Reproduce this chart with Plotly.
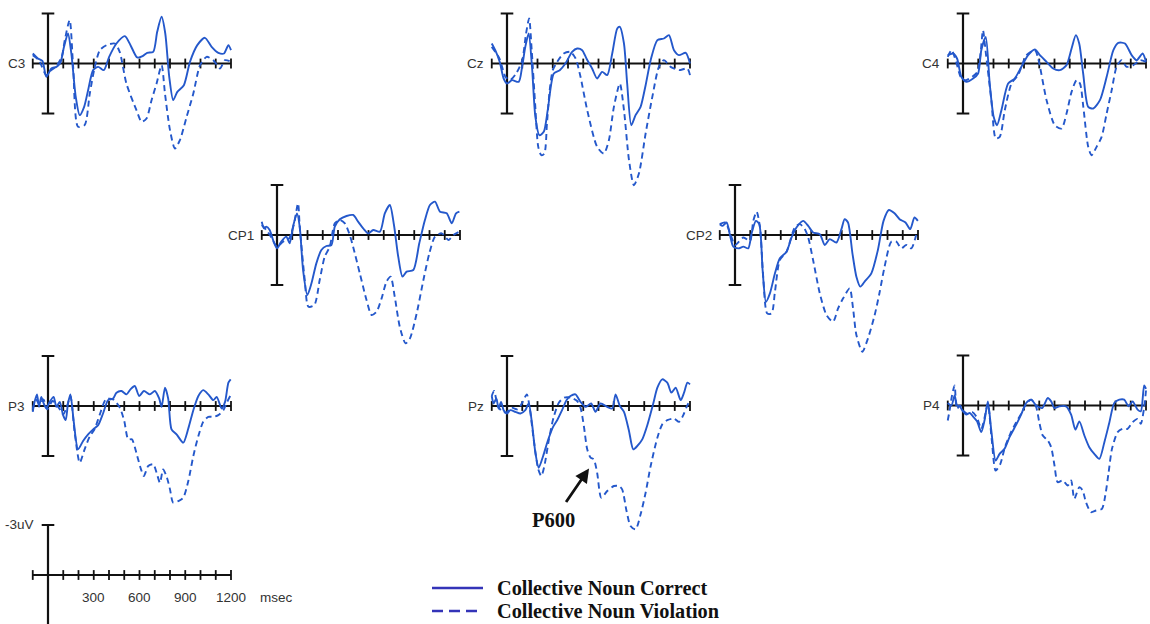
import plotly.graph_objects as go

# ---------------------------------------------------------------------------
# Grand-average ERP waveforms (microvolts, negative plotted up), time in ms
# ---------------------------------------------------------------------------
CONDITIONS = ["Collective Noun Correct", "Collective Noun Violation"]
CHANNELS = ["C3", "Cz", "C4", "CP1", "CP2", "P3", "Pz", "P4"]
TIME_TICKS_MS = [-100] + list(range(100, 1300, 100))
SCALE_LABELS_MS = [300, 600, 900, 1200]
SCALE_UV = 3

C3_CORRECT_T = [-100, -66, -37, -11, 22, 55, 81, 105, 131, 153, 182, 208, 237, 263, 296, 329, 366, 401, 449, 504,
                541, 585, 620, 650, 690, 716, 745, 769, 795, 821, 848, 891, 931, 979, 1029, 1073, 1117, 1154, 1183, 1200]
C3_CORRECT_V = [-0.6, -0.3, -0.16, 0.8, 0.3, 0.2, -0.04, -1.0, -1.8, -0.6, 2.0, 3.1, 2.6, 1.6, 0.4, 0.2, 0.4, -0.4, -1.2, -1.64,
                -1.1, -0.36, -0.44, -0.64, -0.7, -1.9, -2.8, -1.8, 0.8, 2.2, 1.7, 1.3, -0.1, -1.1, -1.54, -1.0, -0.64, -0.6, -1.1, -0.8]
C3_VIOLATION_T = [-100, -60, -11, 20, 50, 90, 110, 142, 165, 197, 240, 274, 307, 340, 384, 438, 470, 514, 580, 614,
                  646, 679, 712, 745, 767, 800, 832, 865, 909, 953, 997, 1040, 1084, 1128, 1161, 1200]
C3_VIOLATION_V = [-0.5, -0.2, 0.7, 0.4, 0.2, -0.4, -1.4, -2.6, 0.2, 3.8, 3.7, 1.8, 0.2, -0.8, -1.1, -1.2, -0.7, 1.2, 2.8, 3.5,
                  3.3, 2.2, 1.2, 0.1, 1.8, 4.0, 5.1, 4.6, 3.2, 1.8, 0.1, -0.4, -0.2, 0.3, -0.2, -0.1]

CZ_CORRECT_T = [-100, -77, -48, -22, 0, 33, 77, 99, 120, 142, 164, 186, 212, 241, 267, 307, 346, 383, 427, 460,
                493, 521, 558, 591, 624, 657, 690, 723, 740, 767, 788, 815, 843, 876, 909, 942, 986, 1029, 1062, 1095,
                1128, 1172, 1200]
CZ_CORRECT_V = [-1.2, -0.8, -0.1, 0.9, 1.2, 1.0, 1.1, 0.2, -1.0, -1.8, 0.2, 3.2, 4.3, 4.1, 2.8, 0.6, 0.4, 0.0, -0.7, -0.9,
                -0.8, -0.3, 0.3, 0.9, 0.5, 0.7, -0.6, -2.1, -2.2, -1.2, 1.2, 3.7, 3.1, 2.6, 1.3, -0.2, -1.4, -1.5, -1.7, -0.8,
                -0.5, -0.64, 0.0]
CZ_VIOLATION_T = [-100, -50, -10, 20, 60, 100, 125, 145, 162, 185, 205, 225, 245, 262, 280, 300, 329, 372, 416, 450,
                  482, 526, 591, 635, 668, 701, 740, 767, 800, 832, 865, 909, 953, 996, 1029, 1073, 1128, 1183, 1200]
CZ_VIOLATION_V = [-1.0, -0.3, 0.8, 1.0, 0.6, -0.2, -1.8, -2.7, -0.8, 2.5, 5.0, 5.5, 5.4, 3.6, 1.6, 0.4, -0.1, -0.6, -0.7, -0.3,
                  0.8, 2.8, 5.0, 5.4, 4.6, 2.6, 1.2, 2.8, 5.8, 7.3, 6.6, 4.2, 2.0, 0.2, -0.2, 0.2, 0.4, 0.3, 0.7]

C4_CORRECT_T = [-100, -66, -39, -11, 22, 66, 99, 120, 149, 175, 201, 223, 252, 296, 339, 383, 427, 471, 504, 548,
                591, 635, 679, 712, 740, 762, 788, 821, 854, 898, 942, 986, 1018, 1062, 1106, 1139, 1178, 1200]
C4_CORRECT_V = [-0.5, -0.6, -0.3, 0.8, 1.1, 0.9, 0.6, -0.8, -1.6, 1.2, 3.2, 3.7, 2.8, 1.2, 0.9, 0.2, -0.5, -0.84, -0.5, -0.1,
                0.3, 0.4, 0.1, -0.9, -1.7, -1.2, 0.6, 2.6, 2.7, 2.2, 0.8, -0.8, -1.24, -1.2, -0.5, -0.2, -0.6, -0.1]
C4_VIOLATION_T = [-100, -75, -45, -10, 20, 60, 95, 115, 131, 150, 186, 215, 241, 274, 318, 361, 416, 471, 493, 548,
                  602, 646, 679, 712, 745, 767, 789, 821, 843, 876, 909, 942, 975, 1007, 1040, 1073, 1117, 1161, 1200]
C4_VIOLATION_V = [-0.4, -0.8, -0.1, 0.9, 1.0, 0.8, 0.5, -0.6, -2.0, -0.6, 2.2, 4.5, 4.4, 2.8, 1.2, 0.7, -0.5, -0.8, -0.3, 2.2,
                  3.7, 3.9, 3.0, 1.7, 1.0, 1.2, 2.6, 5.0, 5.5, 5.0, 4.4, 3.0, 1.6, 0.2, -0.2, 0.2, 0.1, -0.2, -0.1]

CP1_CORRECT_T = [-100, -85, -70, -48, -22, 0, 28, 61, 83, 105, 131, 149, 171, 199, 226, 258, 291, 324, 357, 379,
                 412, 456, 499, 532, 565, 598, 631, 675, 707, 740, 767, 795, 823, 850, 894, 933, 970, 1003, 1036, 1069,
                 1113, 1146, 1174, 1196]
CP1_CORRECT_V = [-0.8, -0.4, -0.5, -0.3, 0.4, 0.8, 0.4, 0.1, 0.5, -0.5, -1.3, -0.5, 2.1, 3.6, 2.9, 1.7, 0.9, 0.66, 0.6, -0.5,
                 -0.94, -1.14, -1.2, -0.8, -0.4, -0.1, -0.3, -0.2, -1.3, -1.8, -0.6, 1.3, 2.5, 2.2, 2.1, 0.5, -0.9, -1.8, -2.0, -1.4,
                 -1.3, -0.7, -1.3, -1.4]
CP1_VIOLATION_T = [-100, -70, -40, 0, 40, 80, 110, 138, 149, 182, 206, 245, 280, 313, 346, 379, 412, 445, 477, 499,
                   543, 587, 620, 653, 686, 718, 745, 772, 805, 843, 872, 916, 960, 999, 1036, 1080, 1124, 1157, 1196]
CP1_VIOLATION_V = [-0.6, -0.3, 0.1, 0.7, 0.4, 0.2, -0.6, -1.9, -0.5, 2.7, 4.3, 4.2, 2.7, 1.3, 0.7, -0.7, -0.9, -0.7, 0.0, 0.7,
                   2.3, 3.9, 4.8, 4.6, 3.8, 2.8, 2.5, 3.7, 5.5, 6.5, 6.2, 4.7, 2.7, 1.1, 0.1, -0.1, 0.3, 0.0, -0.2]

CP2_CORRECT_T = [-100, -81, -55, -33, -11, 22, 55, 87, 109, 137, 159, 181, 203, 229, 262, 294, 338, 371, 403, 447,
                 480, 512, 556, 589, 621, 665, 698, 719, 741, 770, 796, 822, 850, 894, 937, 974, 1009, 1046, 1079, 1118,
                 1149, 1177, 1199]
CP2_CORRECT_V = [-0.65, -0.55, -0.75, 0.0, 0.7, 0.8, 0.7, 0.8, -0.1, -0.85, -0.65, 2.1, 4.0, 3.5, 2.3, 1.4, 1.0, 0.15, -0.45, -0.85,
                 -0.55, -0.15, -0.05, 0.6, 0.25, 0.45, -0.35, -0.95, -0.75, 1.1, 2.5, 3.1, 2.8, 2.3, 0.9, -0.85, -1.5, -1.3, -0.95, -0.75,
                 -0.35, -1.05, -0.85]
CP2_VIOLATION_T = [-100, -65, -33, 0, 55, 98, 120, 142, 164, 185, 211, 240, 262, 294, 338, 392, 425, 458, 480, 512,
                   556, 600, 643, 676, 709, 752, 774, 796, 835, 872, 916, 948, 981, 1025, 1058, 1090, 1123, 1156, 1188]
CP2_VIOLATION_V = [-0.65, -0.75, -0.15, 0.6, 0.15, 0.35, -0.85, -1.4, -0.45, 2.5, 4.7, 4.7, 3.4, 1.5, 1.0, -0.45, -0.65, -0.35, 0.15, 1.5,
                   3.5, 4.8, 5.2, 4.4, 3.8, 3.2, 4.4, 6.0, 7.0, 6.2, 4.8, 3.45, 1.9, 0.4, 0.4, 0.8, 0.6, 0.8, 0.0]

P3_CORRECT_T = [-100, -88, -72, -59, -44, -28, -11, 11, 37, 55, 77, 99, 116, 131, 147, 169, 197, 230, 263, 296,
                329, 361, 394, 427, 449, 482, 515, 541, 569, 598, 629, 668, 701, 729, 745, 767, 788, 810, 843, 887,
                920, 953, 986, 1018, 1051, 1084, 1106, 1139, 1161, 1183, 1198]
P3_CORRECT_V = [0.35, -0.25, -0.7, 0.05, -0.55, -0.15, 0.15, -0.25, -0.55, 0.05, -0.25, 0.55, 0.85, -0.15, -0.7, 0.95, 2.6, 2.1, 1.7, 1.4,
                1.15, 0.45, -0.35, -0.45, -0.8, -0.9, -0.7, -1.0, -1.2, -0.6, -0.9, -0.7, -0.9, -0.45, 0.05, -1.1, -0.45, 1.4, 1.7, 2.2,
                1.35, 0.25, -0.6, -0.95, -0.7, -0.35, -0.55, 0.15, -0.25, -1.4, -1.6]
P3_VIOLATION_T = [-100, -80, -55, -30, -5, 30, 70, 100, 125, 147, 175, 208, 240, 275, 305, 340, 380, 427, 471, 500,
                  526, 550, 585, 610, 629, 657, 690, 712, 734, 755, 780, 800, 821, 855, 887, 920, 953, 986, 1018, 1051,
                  1084, 1117, 1150, 1175, 1195]
P3_VIOLATION_V = [0.2, -0.4, -0.1, -0.4, 0.2, -0.3, 0.1, 0.5, 0.0, -0.6, 1.6, 3.4, 2.6, 1.8, 1.4, 0.5, -0.4, -0.4, 0.1, 0.9,
                  2.0, 2.0, 3.0, 3.8, 4.2, 3.6, 3.5, 4.0, 4.6, 3.8, 4.3, 5.0, 5.8, 5.7, 5.5, 4.5, 3.0, 1.8, 0.95, 0.65,
                  0.65, 0.55, 0.25, -0.25, -0.6]

PZ_CORRECT_T = [-100, -88, -70, -55, -39, -22, 0, 22, 55, 88, 120, 142, 164, 186, 208, 237, 267, 302, 329, 361,
                390, 416, 449, 482, 515, 552, 580, 613, 657, 690, 712, 740, 767, 799, 828, 854, 887, 920, 959, 986,
                1018, 1051, 1078, 1106, 1139, 1161, 1183, 1200]
PZ_CORRECT_V = [-0.6, -0.15, -0.45, 0.15, -0.25, 0.25, 0.45, 0.25, 0.35, 0.45, 0.25, -0.15, 1.05, 2.8, 3.7, 3.0, 2.1, 1.25, 0.85, 0.25,
                -0.35, -0.6, -0.7, -0.25, 0.05, -0.15, 0.35, -0.15, 0.05, 0.15, -0.7, 0.0, 0.35, 1.45, 2.6, 2.4, 2.0, 1.15, -0.15, -1.1,
                -1.6, -1.4, -0.8, -1.1, -0.35, -0.8, -1.4, -1.3]
PZ_VIOLATION_T = [-100, -85, -60, -35, -5, 30, 70, 100, 130, 150, 175, 205, 225, 245, 275, 305, 340, 375, 420, 460,
                  482, 504, 526, 548, 569, 591, 618, 657, 701, 734, 755, 784, 810, 843, 876, 909, 942, 986, 1018, 1051,
                  1095, 1128, 1156, 1178, 1200]
PZ_VIOLATION_V = [-0.6, -0.9, 0.0, 0.3, 0.4, 0.1, 0.2, -0.2, -0.7, 0.2, 2.0, 3.8, 4.2, 3.6, 2.0, 0.7, -0.2, -0.5, -0.5, -0.3,
                  0.1, 1.2, 2.6, 3.1, 3.2, 4.0, 5.5, 5.1, 4.8, 4.8, 5.0, 6.3, 7.2, 7.4, 6.5, 5.2, 3.6, 1.9, 1.1, 0.85,
                  0.75, 0.95, 0.55, 0.05, -0.35]

P4_CORRECT_T = [-100, -76, -55, -39, -22, 0, 22, 44, 65, 92, 120, 142, 163, 185, 214, 240, 272, 305, 349, 381,
                414, 447, 480, 519, 556, 578, 600, 632, 676, 709, 737, 763, 796, 828, 861, 894, 927, 959, 992, 1025,
                1057, 1086, 1112, 1145, 1166, 1188, 1200]
P4_CORRECT_V = [-0.15, 0.0, -0.6, 0.0, 0.05, 0.35, 0.55, 0.45, 0.65, 0.95, 1.6, 0.85, -0.25, 1.45, 3.3, 2.9, 2.6, 1.9, 1.15, 0.55,
                -0.15, -0.35, 0.0, 0.15, -0.45, -0.25, 0.15, 0.05, 0.05, 0.55, 1.45, 0.95, 1.8, 2.5, 2.9, 3.2, 2.2, 1.05, -0.15, -0.35,
                -0.35, 0.05, -0.25, 0.25, 0.35, -1.2, -1.0]
P4_VIOLATION_T = [-100, -88, -72, -55, -40, -20, 0, 30, 60, 90, 120, 142, 163, 188, 214, 245, 275, 310, 349, 381,
                  414, 447, 480, 500, 523, 556, 578, 600, 621, 654, 687, 709, 730, 763, 785, 806, 839, 872, 911, 933,
                  955, 977, 1014, 1046, 1079, 1112, 1145, 1166, 1188, 1200]
P4_VIOLATION_V = [0.9, 0.3, -0.6, -1.2, 0.2, 0.0, 0.3, 0.5, 0.4, 0.7, 1.4, 0.7, -0.1, 2.0, 3.9, 3.5, 2.5, 1.7, 1.0, 0.5,
                  -0.1, -0.35, 0.1, 1.0, 1.8, 2.1, 2.5, 3.6, 4.6, 4.5, 4.8, 4.5, 5.6, 4.9, 5.1, 5.8, 6.4, 6.3, 6.2, 5.4,
                  4.0, 2.6, 1.6, 1.4, 1.4, 1.0, 0.8, 1.1, 0.1, -0.9]

WAVES = {
    "C3": (C3_CORRECT_T, C3_CORRECT_V, C3_VIOLATION_T, C3_VIOLATION_V),
    "Cz": (CZ_CORRECT_T, CZ_CORRECT_V, CZ_VIOLATION_T, CZ_VIOLATION_V),
    "C4": (C4_CORRECT_T, C4_CORRECT_V, C4_VIOLATION_T, C4_VIOLATION_V),
    "CP1": (CP1_CORRECT_T, CP1_CORRECT_V, CP1_VIOLATION_T, CP1_VIOLATION_V),
    "CP2": (CP2_CORRECT_T, CP2_CORRECT_V, CP2_VIOLATION_T, CP2_VIOLATION_V),
    "P3": (P3_CORRECT_T, P3_CORRECT_V, P3_VIOLATION_T, P3_VIOLATION_V),
    "Pz": (PZ_CORRECT_T, PZ_CORRECT_V, PZ_VIOLATION_T, PZ_VIOLATION_V),
    "P4": (P4_CORRECT_T, P4_CORRECT_V, P4_VIOLATION_T, P4_VIOLATION_V),
}

# ---------------------------------------------------------------------------
# Page geometry: each panel is its own subplot, placed by the pixel position
# of its origin (t = 0 ms, 0 uV) on a 1150 x 624 page.
# ---------------------------------------------------------------------------
W, H = 1150, 624
PX_PER_MS = 0.1525
PX_PER_UV = 16.67
X_RANGE = (-120, 1220)

ORIGIN_PX = {
    "C3": (48, 63.5), "Cz": (507, 63.5), "C4": (963, 63.5),
    "CP1": (277, 235), "CP2": (735, 235),
    "P3": (48, 406), "Pz": (507, 406), "P4": (963, 405.5),
    "scale": (48, 575),
}

WAVE_COLOR = "#2458cb"
AXIS_COLOR = "#111111"
LABEL_COLOR = "#333333"
LEGEND_COLOR = "#3434b8"
SANS = "Liberation Sans, Arial, sans-serif"
SERIF = "Liberation Serif, Times New Roman, serif"
LABEL_SIZE = 13.5

fig = go.Figure()
layout = dict(
    width=W, height=H, margin=dict(l=0, r=0, t=0, b=0),
    paper_bgcolor="white", plot_bgcolor="rgba(0,0,0,0)",
    showlegend=False,
)
shapes = []
annotations = []


def add_panel(idx, key, v_top, v_bottom):
    """Create subplot axes idx for the panel whose origin sits at ORIGIN_PX[key]."""
    ox, oy = ORIGIN_PX[key]
    top_px = max(0.0, oy - v_top * PX_PER_UV)
    bot_px = min(float(H), oy + v_bottom * PX_PER_UV)
    left_px = ox + X_RANGE[0] * PX_PER_MS
    right_px = ox + X_RANGE[1] * PX_PER_MS
    sfx = "" if idx == 1 else str(idx)
    layout["xaxis" + sfx] = dict(
        domain=[left_px / W, right_px / W], range=list(X_RANGE),
        visible=False, fixedrange=True, anchor="y" + sfx,
    )
    # negative up: the bottom of the axis holds the positive end
    layout["yaxis" + sfx] = dict(
        domain=[1 - bot_px / H, 1 - top_px / H],
        range=[(bot_px - oy) / PX_PER_UV, -(oy - top_px) / PX_PER_UV],
        visible=False, fixedrange=True, anchor="x" + sfx,
    )
    xr, yr = "x" + sfx, "y" + sfx

    # time axis and amplitude bar
    shapes.append(dict(type="line", xref=xr, yref=yr, x0=TIME_TICKS_MS[0], x1=TIME_TICKS_MS[-1],
                       y0=0, y1=0, line=dict(color=AXIS_COLOR, width=2.2), layer="below"))
    shapes.append(dict(type="line", xref=xr, yref=yr, x0=0, x1=0, y0=-SCALE_UV, y1=SCALE_UV,
                       line=dict(color=AXIS_COLOR, width=2.2), layer="below"))
    fig.add_trace(go.Scatter(
        x=TIME_TICKS_MS, y=[0] * len(TIME_TICKS_MS), xaxis=xr, yaxis=yr, mode="markers",
        marker=dict(symbol="line-ns", size=7, line=dict(color=AXIS_COLOR, width=1.8)),
        hoverinfo="skip", cliponaxis=False,
    ))
    fig.add_trace(go.Scatter(
        x=[0, 0], y=[-SCALE_UV, SCALE_UV], xaxis=xr, yaxis=yr, mode="markers",
        marker=dict(symbol="line-ew", size=9, line=dict(color=AXIS_COLOR, width=2)),
        hoverinfo="skip", cliponaxis=False,
    ))
    return xr, yr


panel_axes = {}
for i, ch in enumerate(CHANNELS, start=1):
    xr, yr = add_panel(i, ch, 3.8, 8.0)
    panel_axes[ch] = (xr, yr)
    tc, vc, tv, vv = WAVES[ch]
    fig.add_trace(go.Scatter(
        x=tv, y=vv, xaxis=xr, yaxis=yr, mode="lines", name=CONDITIONS[1],
        line=dict(color=WAVE_COLOR, width=1.9, dash="6px,4px", shape="spline", smoothing=0.7),
    ))
    fig.add_trace(go.Scatter(
        x=tc, y=vc, xaxis=xr, yaxis=yr, mode="lines", name=CONDITIONS[0],
        line=dict(color=WAVE_COLOR, width=1.9, shape="spline", smoothing=0.7),
    ))
    annotations.append(dict(
        x=TIME_TICKS_MS[0], y=0, xref=xr, yref=yr, text=ch, showarrow=False,
        xanchor="right", yanchor="middle", xshift=-6,
        font=dict(family=SANS, size=LABEL_SIZE, color=LABEL_COLOR),
    ))

# calibration panel (bottom left)
sx, sy = add_panel(len(CHANNELS) + 1, "scale", 3.4, 3.0)
for ms in SCALE_LABELS_MS:
    annotations.append(dict(
        x=ms, y=0, xref=sx, yref=sy, text=str(ms), showarrow=False,
        xanchor="center", yanchor="middle", yshift=-22,
        font=dict(family=SANS, size=LABEL_SIZE, color=LABEL_COLOR),
    ))
annotations.append(dict(
    x=SCALE_LABELS_MS[-1], y=0, xref=sx, yref=sy, text="msec", showarrow=False,
    xanchor="left", yanchor="middle", xshift=27, yshift=-22,
    font=dict(family=SANS, size=LABEL_SIZE, color=LABEL_COLOR),
))
annotations.append(dict(
    x=0, y=-SCALE_UV, xref=sx, yref=sy, text=f"-{SCALE_UV}uV", showarrow=False,
    xanchor="right", yanchor="middle", xshift=-12,
    font=dict(family=SANS, size=LABEL_SIZE, color=LABEL_COLOR),
))

# P600 callout on Pz
pzx, pzy = panel_axes["Pz"]
annotations.append(dict(
    x=538, y=3.75, xref=pzx, yref=pzy, text="", showarrow=True,
    ax=-24, ay=35, arrowhead=2, arrowsize=1.0, arrowwidth=2.8, arrowcolor="#111111",
))
annotations.append(dict(
    x=308, y=6.85, xref=pzx, yref=pzy, text="<b>P600</b>", showarrow=False,
    xanchor="center", yanchor="middle",
    font=dict(family=SERIF, size=20.5, color="#111111"),
))

# legend drawn at the bottom centre
legend_rows = [(588, "solid"), (611, "11px,6px")]
for (row_y, dash), label in zip(legend_rows, CONDITIONS):
    py = 1 - row_y / H
    shapes.append(dict(type="line", xref="paper", yref="paper", x0=432 / W, x1=483 / W,
                       y0=py, y1=py, line=dict(color=LEGEND_COLOR, width=2.6, dash=dash)))
    annotations.append(dict(
        x=495 / W, y=py, xref="paper", yref="paper", text=f"<b>{label}</b>", showarrow=False,
        xanchor="left", yanchor="middle",
        font=dict(family=SERIF, size=20.3, color="#111111"),
    ))

layout["shapes"] = shapes
layout["annotations"] = annotations
fig.update_layout(**layout)
fig.write_html("out.html")
